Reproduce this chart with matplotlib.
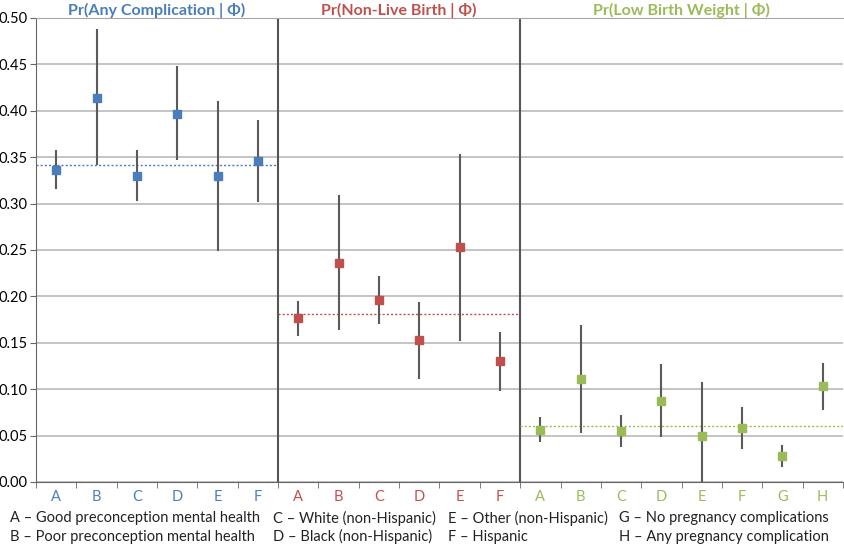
import numpy as np
import matplotlib
matplotlib.use("Agg")
from matplotlib import pyplot as plt
from matplotlib import transforms

plt.rcParams['font.family'] = ['Lato', 'DejaVu Sans']

# panel 1 - any complication
cats_any = ["A", "B", "C", "D", "E", "F"]
est_any = [0.336, 0.414, 0.330, 0.397, 0.330, 0.346]
lo_any = [0.316, 0.342, 0.303, 0.347, 0.249, 0.302]
hi_any = [0.358, 0.488, 0.358, 0.448, 0.411, 0.390]
mean_any = 0.342

# panel 2 - non-live birth
cats_nlb = ["A", "B", "C", "D", "E", "F"]
est_nlb = [0.177, 0.236, 0.196, 0.153, 0.253, 0.130]
lo_nlb = [0.157, 0.164, 0.170, 0.111, 0.152, 0.098]
hi_nlb = [0.195, 0.309, 0.222, 0.194, 0.353, 0.162]
mean_nlb = 0.181

# panel 3 - low birth weight
cats_lbw = ["A", "B", "C", "D", "E", "F", "G", "H"]
est_lbw = [0.056, 0.111, 0.055, 0.087, 0.050, 0.058, 0.028, 0.103]
lo_lbw = [0.043, 0.053, 0.038, 0.049, 0.000, 0.036, 0.016, 0.078]
hi_lbw = [0.070, 0.169, 0.072, 0.127, 0.108, 0.081, 0.040, 0.128]
mean_lbw = 0.060

titles = ["Pr(Any Complication | \u03a6)", "Pr(Non-Live Birth | \u03a6)", "Pr(Low Birth Weight | \u03a6)"]
colors = ["#4a7ebb", "#c0504d", "#9bbb59"]

legend_cols = [
    ["A \u2013 Good preconception mental health", "B \u2013 Poor preconception mental health"],
    ["C \u2013 White (non-Hispanic)", "D \u2013 Black (non-Hispanic)"],
    ["E \u2013 Other (non-Hispanic)", "F \u2013 Hispanic"],
    ["G \u2013 No pregnancy complications", "H \u2013 Any pregnancy complication"],
]

fig = plt.figure(figsize=(8.44, 5.44), dpi=100)
ax = fig.add_axes([0.0427, 0.114, 0.956, 0.853])
title_tr = transforms.blended_transform_factory(ax.transData, fig.transFigure)

panels = [
    (cats_any, est_any, lo_any, hi_any, mean_any),
    (cats_nlb, est_nlb, lo_nlb, hi_nlb, mean_nlb),
    (cats_lbw, est_lbw, lo_lbw, hi_lbw, mean_lbw),
]

offset = 0
centers = []
labels = []
label_colors = []
for k, (cats, est, lo, hi, m) in enumerate(panels):
    x = offset + np.arange(len(cats)) + 0.5
    est = np.array(est)
    yerr = [est - np.array(lo), np.array(hi) - est]
    ax.errorbar(x, est, yerr=yerr, fmt='none', ecolor='#5a5a5a', elinewidth=1.5, capsize=0, zorder=3)
    ax.plot(x, est, 's', color=colors[k], markersize=5.5, zorder=4)
    ax.plot([offset, offset + len(cats)], [m, m], linestyle=(0, (1.5, 1.5)), color=colors[k], lw=1.0, zorder=2)
    ax.text(offset + len(cats) / 2, 1 - 10 / 544, titles[k], color=colors[k], fontsize=11.5,
            fontweight='bold', ha='center', va='center', transform=title_tr)
    centers += list(x)
    labels += cats
    label_colors += [colors[k]] * len(cats)
    offset += len(cats)
    if k < 2:
        ax.axvline(offset, color='#555555', lw=1.5, zorder=2)

ax.set_xlim(0, offset)
ax.set_ylim(0, 0.5)
ax.set_yticks(np.arange(0, 0.501, 0.05))
ax.set_yticklabels(["%.2f" % v for v in np.arange(0, 0.501, 0.05)], fontsize=10.5)
ax.set_xticks(centers)
ax.set_xticklabels(labels, fontsize=10.5)
for t, c in zip(ax.get_xticklabels(), label_colors):
    t.set_color(c)
ax.set_xticks(np.arange(0, offset + 1), minor=True)
ax.tick_params(axis='x', which='major', length=0, pad=6)
ax.tick_params(axis='x', which='minor', length=4, direction='out', color='#666666')
ax.tick_params(axis='y', length=4, direction='out', color='#666666', pad=2)

ax.yaxis.grid(True, color='#bfbfbf', lw=1.3)
ax.set_axisbelow(True)
ax.spines['right'].set_visible(False)
ax.spines['top'].set_color('#a6a6a6')
ax.spines['left'].set_color('#666666')
ax.spines['bottom'].set_color('#666666')

col_x = [0.012, 0.323, 0.531, 0.733]
for cx, lines in zip(col_x, legend_cols):
    fig.text(cx, 0.047, lines[0], fontsize=10.5, color='#222222', va='center')
    fig.text(cx, 0.013, lines[1], fontsize=10.5, color='#222222', va='center')

fig.savefig("out.png", dpi=100)
